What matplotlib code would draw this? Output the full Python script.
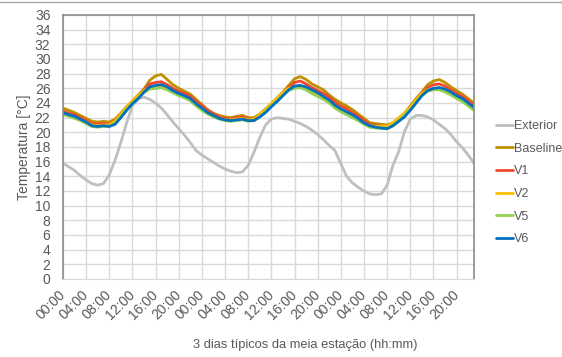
import matplotlib
matplotlib.use("Agg")
import matplotlib.pyplot as plt
from matplotlib.lines import Line2D

plt.rcParams["font.family"] = ["Liberation Sans", "DejaVu Sans"]

hours = list(range(72))
tick_labels = ["00:00", "04:00", "08:00", "12:00", "16:00", "20:00"] * 3

exterior = [
    15.8, 15.3, 14.8, 14.1, 13.5, 13.0, 12.8, 13.0, 14.2, 16.2, 18.6, 21.3,
    23.6, 24.6, 24.8, 24.5, 24.0, 23.3, 22.4, 21.4, 20.5, 19.6, 18.6, 17.5,
    16.9, 16.4, 15.9, 15.4, 15.0, 14.7, 14.5, 14.6, 15.5, 17.3, 19.3, 21.0,
    21.8, 22.0, 21.9, 21.8, 21.5, 21.2, 20.8, 20.3, 19.7, 19.0, 18.2, 17.5,
    15.7, 14.0, 13.1, 12.5, 12.0, 11.6, 11.5, 11.6, 12.8, 15.5, 17.4, 20.1,
    21.8, 22.3, 22.3, 22.1, 21.7, 21.1, 20.5, 19.7, 18.7, 17.9, 16.9, 15.8,
]
baseline = [
    23.3, 23.0, 22.7, 22.3, 21.9, 21.5, 21.4, 21.5, 21.4, 21.8, 22.6, 23.5,
    24.3, 25.1, 25.9, 27.1, 27.7, 27.9, 27.2, 26.5, 26.0, 25.6, 25.2, 24.5,
    23.8, 23.1, 22.6, 22.3, 22.1, 22.0, 22.2, 22.3, 22.0, 22.0, 22.5, 23.2,
    23.9, 24.7, 25.5, 26.4, 27.3, 27.6, 27.2, 26.6, 26.2, 25.8, 25.1, 24.5,
    24.0, 23.6, 23.1, 22.5, 21.9, 21.3, 21.2, 21.1, 21.0, 21.3, 21.9, 22.6,
    23.6, 24.6, 25.5, 26.5, 27.0, 27.2, 26.8, 26.2, 25.7, 25.2, 24.6, 24.0,
]
v1 = [
    22.9, 22.6, 22.4, 22.0, 21.6, 21.2, 21.1, 21.2, 21.1, 21.5, 22.3, 23.2,
    24.1, 24.9, 25.8, 26.6, 26.8, 26.9, 26.5, 26.0, 25.6, 25.3, 24.9, 24.2,
    23.6, 23.0, 22.5, 22.1, 21.9, 21.8, 22.0, 22.1, 21.8, 21.8, 22.3, 23.0,
    23.7, 24.5, 25.3, 26.1, 26.8, 27.0, 26.6, 26.1, 25.7, 25.3, 24.8, 24.1,
    23.6, 23.2, 22.7, 22.2, 21.6, 21.1, 20.9, 20.8, 20.7, 21.1, 21.7, 22.4,
    23.3, 24.3, 25.3, 26.1, 26.5, 26.6, 26.3, 25.8, 25.3, 24.9, 24.3, 23.7,
]
v2 = [
    22.6, 22.3, 22.1, 21.7, 21.4, 21.0, 20.9, 21.0, 21.0, 21.5, 22.4, 23.4,
    24.3, 25.0, 25.7, 26.1, 26.2, 26.2, 25.9, 25.5, 25.1, 24.8, 24.4, 23.7,
    23.1, 22.6, 22.2, 21.9, 21.7, 21.7, 21.8, 21.9, 21.7, 21.8, 22.4, 23.1,
    23.9, 24.6, 25.4, 26.0, 26.2, 26.2, 25.9, 25.5, 25.1, 24.7, 24.2, 23.5,
    23.0, 22.6, 22.2, 21.7, 21.2, 20.9, 20.8, 20.8, 20.8, 21.3, 22.0, 22.6,
    23.4, 24.4, 25.3, 25.8, 25.9, 25.9, 25.7, 25.3, 24.9, 24.4, 23.8, 23.2,
]
v5 = [
    22.4, 22.2, 21.9, 21.6, 21.2, 20.8, 20.7, 20.8, 20.8, 21.2, 22.1, 23.1,
    24.0, 24.7, 25.4, 25.9, 26.0, 26.1, 25.8, 25.4, 25.0, 24.7, 24.3, 23.6,
    23.0, 22.5, 22.1, 21.8, 21.6, 21.5, 21.6, 21.7, 21.5, 21.6, 22.1, 22.8,
    23.6, 24.3, 25.1, 25.7, 26.0, 26.1, 25.8, 25.3, 24.9, 24.5, 24.0, 23.3,
    22.8, 22.4, 22.0, 21.6, 21.1, 20.7, 20.6, 20.5, 20.5, 20.9, 21.6, 22.3,
    23.1, 24.1, 25.0, 25.6, 25.8, 25.8, 25.5, 25.1, 24.6, 24.2, 23.6, 23.0,
]
v6 = [
    22.7, 22.4, 22.2, 21.8, 21.4, 20.9, 20.8, 20.9, 20.8, 21.1, 22.0, 23.0,
    23.9, 24.6, 25.5, 26.2, 26.4, 26.5, 26.2, 25.7, 25.3, 25.0, 24.6, 23.9,
    23.3, 22.7, 22.3, 21.9, 21.7, 21.6, 21.7, 21.8, 21.6, 21.6, 22.1, 22.7,
    23.5, 24.2, 25.0, 25.8, 26.3, 26.4, 26.2, 25.8, 25.4, 24.9, 24.4, 23.7,
    23.2, 22.8, 22.4, 21.9, 21.3, 20.9, 20.7, 20.6, 20.5, 20.9, 21.5, 22.1,
    23.0, 24.0, 25.0, 25.7, 26.0, 26.1, 25.9, 25.5, 25.0, 24.6, 24.0, 23.4,
]

series = [
    ("Exterior", exterior, "#bfbfbf"),
    ("Baseline", baseline, "#bf9000"),
    ("V1", v1, "#f4472f"),
    ("V2", v2, "#ffc000"),
    ("V5", v5, "#92d050"),
    ("V6", v6, "#0070c0"),
]

text_color = "#595959"

fig = plt.figure(figsize=(5.62, 3.57), dpi=100)
ax = fig.add_axes([0.112, 0.2185, 0.7314, 0.7395])

for name, vals, color in series:
    ax.plot(hours, vals, color=color, linewidth=2.0, label=name,
            solid_capstyle="round")

ax.set_xlim(0, 71)
ax.set_ylim(0, 36)
ax.set_yticks(range(0, 37, 2))
ax.set_xticks(range(0, 72, 4))
ax.set_xticklabels(tick_labels, rotation=45, ha="right", va="center",
                   rotation_mode="anchor")

ax.grid(True, color="#d9d9d9", linewidth=1.0)
ax.set_axisbelow(True)
ax.tick_params(axis="both", length=0, labelsize=10, labelcolor=text_color)
ax.tick_params(axis="y", pad=9)
ax.tick_params(axis="x", pad=10)

for side in ["left", "right", "top"]:
    ax.spines[side].set_color("#8c8c8c")
    ax.spines[side].set_linewidth(1.2)
ax.spines["bottom"].set_color("#d9d9d9")

ax.set_ylabel("Temperatura [°C]", fontsize=10, color=text_color, labelpad=3)
fig.text(0.543, 0.034, "3 dias típicos da meia estação (hh:mm)",
         fontsize=9.3, color=text_color, ha="center", va="center")

# legend squeezed into the right margin
fig.legend(loc="upper left", bbox_to_anchor=(496 / 562, 1 - 120 / 357),
           frameon=False, fontsize=9, labelcolor=text_color,
           handlelength=1.35, handletextpad=0.08, labelspacing=0.85,
           borderpad=0, borderaxespad=0)

# thin rule along the top edge
fig.add_artist(Line2D([0, 1], [1 - 2 / 357, 1 - 2 / 357],
                      transform=fig.transFigure, color="#a6a6a6",
                      linewidth=1.0))

fig.savefig("out.png", dpi=100)
